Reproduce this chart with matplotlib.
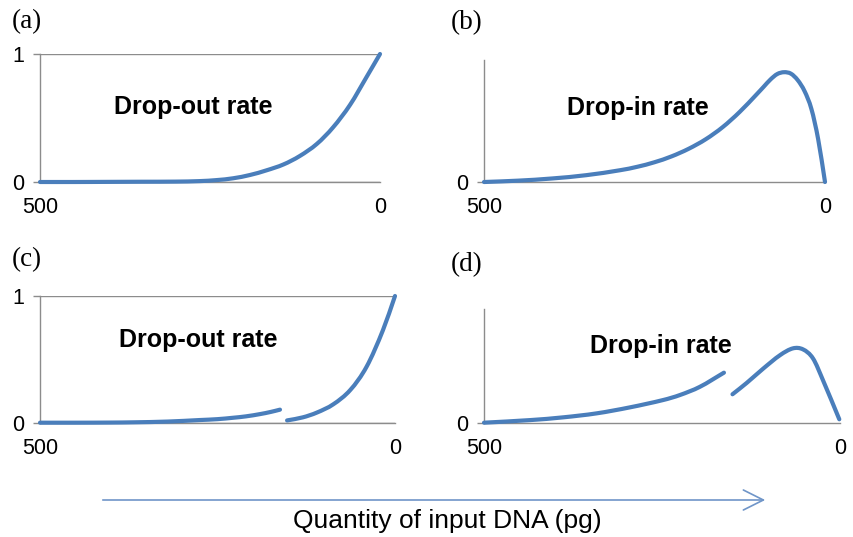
import matplotlib
matplotlib.use("Agg")
import numpy as np
import matplotlib.pyplot as plt
from matplotlib.patches import FancyArrowPatch, PathPatch
from matplotlib.path import Path

# ---- data (quantity of input DNA in pg, rate in relative units) ----
dropout_q = [500, 450, 400, 350, 300, 265, 240, 216, 191, 167, 142, 118, 93, 69, 44, 20, 0]
dropout_v = [0.0, 0.0, 0.001, 0.002, 0.003, 0.007, 0.015, 0.029, 0.055, 0.091, 0.137, 0.203,
             0.297, 0.427, 0.603, 0.818, 1.0]

dropin_q = [500, 450, 400, 350, 300, 275, 250, 225, 200, 175, 150, 125, 100,
            90, 80, 70, 60, 50, 40, 30, 20, 10, 0]
dropin_v = [0.0, 0.011, 0.029, 0.056, 0.097, 0.125, 0.162, 0.21, 0.272, 0.35, 0.45, 0.575, 0.72,
            0.78, 0.84, 0.885, 0.9, 0.888, 0.835, 0.745, 0.6, 0.35, 0.0]

dropout_low_q = [500, 450, 400, 368, 320, 275, 250, 228, 210, 190, 175, 162]
dropout_low_v = [0.0, 0.0, 0.001, 0.003, 0.009, 0.021, 0.028, 0.039, 0.05, 0.068, 0.085, 0.103]
dropout_high_q = [152, 130, 110, 87, 63, 40, 17, 0]
dropout_high_v = [0.018, 0.042, 0.08, 0.145, 0.258, 0.442, 0.73, 1.0]

dropin_low_q = [500, 435, 389, 342, 295, 248, 225, 197, 163]
dropin_low_v = [0.0, 0.023, 0.047, 0.082, 0.135, 0.2, 0.243, 0.315, 0.44]
dropin_high_q = [151, 131, 108, 84, 66, 52, 38, 24, 1]
dropin_high_v = [0.25, 0.35, 0.475, 0.595, 0.654, 0.645, 0.566, 0.375, 0.03]

panel_tags = ["(a)", "(b)", "(c)", "(d)"]
panel_titles = ["Drop-out rate", "Drop-in rate", "Drop-out rate", "Drop-in rate"]
x_ticks = [500, 0]
x_ticklabels = ["500", "0"]
axis_label = "Quantity of input DNA (pg)"

LINE = "#4a7ebb"
GRAY = "#8c8c8c"
W, H = 854, 537

plt.rcParams["font.family"] = ["Liberation Sans", "DejaVu Sans"]
fig = plt.figure(figsize=(W / 100, H / 100), dpi=100)


def px_axes(left, top, right, bottom):
    return fig.add_axes([left / W, 1 - bottom / H, (right - left) / W, (bottom - top) / H])


def style(ax, with_one):
    ax.set_xlim(500, 0)
    ax.set_ylim(0, 1)
    for s in ("top", "right"):
        ax.spines[s].set_visible(False)
    for s in ("left", "bottom"):
        ax.spines[s].set_color(GRAY)
        ax.spines[s].set_linewidth(1.0)
    ax.set_xticks(x_ticks)
    ax.set_xticklabels(x_ticklabels)
    ax.tick_params(axis="x", length=0, pad=11, labelsize=15.5)
    if with_one:
        ax.set_yticks([0, 1])
        ax.set_yticklabels(["0", "1"])
        ax.yaxis.grid(True, color=GRAY, linewidth=1.0)
    else:
        ax.set_yticks([0])
        ax.set_yticklabels(["0"])
    ax.tick_params(axis="y", length=5, width=1.0, color=GRAY, pad=6, labelsize=15.5)
    ax.set_axisbelow(True)


def smooth_path(q, v):
    """Smoothed line through the points: cubic Hermite segments drawn as Beziers."""
    q = np.asarray(q, float)
    v = np.asarray(v, float)
    n = len(q)
    slope = np.empty(n)
    slope[0] = (v[1] - v[0]) / (q[1] - q[0])
    slope[-1] = (v[-1] - v[-2]) / (q[-1] - q[-2])
    for i in range(1, n - 1):
        slope[i] = (v[i + 1] - v[i - 1]) / (q[i + 1] - q[i - 1])
    verts = [(q[0], v[0])]
    codes = [Path.MOVETO]
    for i in range(n - 1):
        h = q[i + 1] - q[i]
        verts += [(q[i] + h / 3, v[i] + slope[i] * h / 3),
                  (q[i + 1] - h / 3, v[i + 1] - slope[i + 1] * h / 3),
                  (q[i + 1], v[i + 1])]
        codes += [Path.CURVE4] * 3
    return Path(verts, codes)


def draw(ax, q, v):
    patch = PathPatch(smooth_path(q, v), facecolor="none", edgecolor=LINE,
                      linewidth=3.0, capstyle="round", joinstyle="round",
                      transform=ax.transData, clip_on=False, zorder=3)
    ax.add_patch(patch)


ax_a = px_axes(40, 54, 380, 182)
ax_b = px_axes(484, 60, 825, 182)
ax_c = px_axes(40, 296, 395, 422.7)
ax_d = px_axes(484, 309, 840, 422.7)

style(ax_a, True)
style(ax_b, False)
style(ax_c, True)
style(ax_d, False)

draw(ax_a, dropout_q, dropout_v)
draw(ax_b, dropin_q, dropin_v)
draw(ax_c, dropout_low_q, dropout_low_v)
draw(ax_c, dropout_high_q, dropout_high_v)
draw(ax_d, dropin_low_q, dropin_low_v)
draw(ax_d, dropin_high_q, dropin_high_v)

title_pos = [(0.45, 0.586), (0.452, 0.607), (0.445, 0.653), (0.497, 0.675)]
for ax, t, (tx, ty) in zip([ax_a, ax_b, ax_c, ax_d], panel_titles, title_pos):
    ax.text(tx, ty, t, transform=ax.transAxes, ha="center", va="center",
            fontsize=18, fontweight="bold")

tag_pos = [(12, 22), (451, 23), (12, 260), (451, 265)]
for t, (x, y) in zip(panel_tags, tag_pos):
    fig.text(x / W, 1 - y / H, t, ha="left", va="center", fontsize=19.5,
             family=["Liberation Serif", "DejaVu Serif"])

arrow = FancyArrowPatch((100 / W, 1 - 500 / H), (768 / W, 1 - 500 / H),
                        transform=fig.transFigure,
                        arrowstyle="->,head_length=1.2,head_width=0.6",
                        color="#6f95c8", linewidth=1.2, mutation_scale=12)
fig.patches.append(arrow)
fig.text(447 / W, 1 - 528 / H, axis_label, ha="center", va="baseline", fontsize=19)

fig.savefig("out.png", dpi=100, facecolor="white")
